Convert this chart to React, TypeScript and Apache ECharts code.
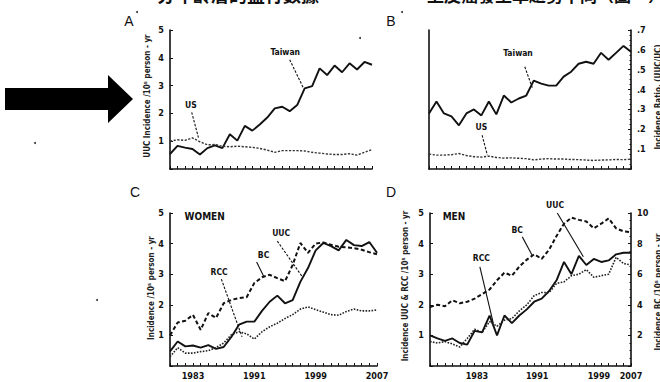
import React, { useEffect, useRef } from "react";
import * as echarts from "echarts";

// ---------- data ----------
const YEARS = [1980, 1981, 1982, 1983, 1984, 1985, 1986, 1987, 1988, 1989, 1990, 1991, 1992, 1993, 1994, 1995, 1996, 1997, 1998, 1999, 2000, 2001, 2002, 2003, 2004, 2005, 2006, 2007];

// Panel A: UUC incidence /10^5 person-yr
const A_TAIWAN = [0.54, 0.83, 0.77, 0.72, 0.52, 0.75, 0.85, 0.75, 1.25, 1.02, 1.55, 1.38, 1.6, 1.85, 2.18, 2.24, 2.08, 2.3, 2.9, 2.98, 3.62, 3.38, 3.72, 3.48, 3.8, 3.58, 3.85, 3.75];
const A_US = [1.0, 1.05, 1.03, 1.12, 0.98, 0.87, 0.88, 0.82, 0.8, 0.82, 0.8, 0.78, 0.74, 0.68, 0.6, 0.66, 0.66, 0.66, 0.65, 0.6, 0.57, 0.54, 0.52, 0.52, 0.55, 0.5, 0.6, 0.7];

// Panel B: incidence ratio
const B_TAIWAN = [0.28, 0.34, 0.28, 0.265, 0.22, 0.28, 0.3, 0.27, 0.34, 0.275, 0.37, 0.335, 0.355, 0.37, 0.445, 0.43, 0.42, 0.42, 0.465, 0.49, 0.53, 0.54, 0.53, 0.585, 0.55, 0.585, 0.62, 0.59];
const B_US = [0.075, 0.07, 0.07, 0.072, 0.078, 0.068, 0.062, 0.06, 0.065, 0.058, 0.055, 0.056, 0.054, 0.052, 0.046, 0.05, 0.052, 0.05, 0.05, 0.048, 0.047, 0.045, 0.043, 0.045, 0.046, 0.048, 0.047, 0.05];

// Panel C: women
const C_UUC = [0.48, 0.8, 0.64, 0.67, 0.6, 0.68, 0.56, 0.62, 0.95, 1.35, 1.45, 1.45, 1.8, 2.1, 2.3, 2.05, 2.15, 2.75, 3.2, 3.78, 4.02, 3.92, 3.78, 4.12, 3.95, 3.92, 4.05, 3.7];
const C_BC = [1.0, 1.42, 1.48, 1.67, 1.18, 1.73, 1.57, 2.05, 2.16, 2.22, 2.25, 2.71, 2.9, 2.98, 2.87, 2.77, 3.3, 4.02, 3.7, 4.0, 4.04, 3.96, 3.9, 3.88, 3.85, 3.8, 3.72, 3.65];
const C_RCC = [0.3, 0.6, 0.42, 0.42, 0.47, 0.5, 0.6, 0.75, 1.02, 1.12, 1.05, 0.88, 1.12, 1.28, 1.4, 1.55, 1.68, 1.86, 1.93, 1.84, 1.76, 1.68, 1.66, 1.78, 1.86, 1.8, 1.8, 1.83];

// Panel D: men (BC on right axis)
const D_UUC = [1.0, 0.9, 0.82, 0.9, 0.75, 0.7, 1.15, 1.1, 1.65, 1.0, 1.65, 1.4, 1.65, 1.85, 2.1, 2.2, 2.45, 2.8, 3.4, 3.0, 3.6, 3.3, 3.5, 3.4, 3.45, 3.65, 3.7, 3.7];
const D_RCC = [0.8, 0.75, 0.8, 0.72, 0.62, 0.9, 1.2, 1.1, 1.45, 1.3, 1.5, 1.55, 1.8, 2.0, 2.3, 2.4, 2.4, 2.7, 2.75, 2.95, 3.0, 3.15, 2.9, 2.95, 3.0, 3.55, 3.35, 3.3];
const D_BC = [3.85, 4.0, 3.9, 4.3, 4.1, 4.2, 4.4, 4.7, 5.0, 5.6, 6.1, 5.9, 6.5, 6.95, 7.3, 7.0, 7.6, 8.5, 9.3, 9.7, 9.55, 9.45, 9.0, 9.3, 9.65, 9.0, 8.8, 8.75];

// tick labels
const C_X_LABELS = ["1983", "1991", "1999", "2007"];
const C_X_LABEL_AT = [1983, 1991, 1999, 2007];
const D_X_LABELS = ["1983", "1991", "1999", "2007"];
const D_X_LABEL_AT = [1986.3, 1994.4, 2002.7, 2007];

// annotations in data coordinates: [xAxisIndex, yAxisIndex, text, x, y, align]
const LABELS: [number, number, string, number, number, string][] = [
  [0, 0, "Taiwan", 1995.4, 4.21, "center"],
  [0, 0, "US", 1982.8, 2.32, "center"],
  [1, 1, "Taiwan", 1991.9, 0.585, "center"],
  [1, 1, "US", 1987.0, 0.21, "center"],
  [2, 3, "WOMEN", 1981.9, 4.87, "left"],
  [2, 3, "RCC", 1986.4, 3.07, "center"],
  [2, 3, "BC", 1992.2, 3.63, "center"],
  [2, 3, "UUC", 1994.5, 4.35, "center"],
  [3, 4, "MEN", 1981.7, 4.87, "left"],
  [3, 4, "BC", 1991.7, 4.44, "center"],
  [3, 4, "RCC", 1986.9, 3.53, "center"],
  [3, 4, "UUC", 1996.8, 5.26, "center"],
];
// leader lines: [xAxisIndex, yAxisIndex, x1, y1, x2, y2, dashed]
const LEADERS: [number, number, number, number, number, number, boolean][] = [
  [0, 0, 1996.0, 3.93, 1997.8, 2.93, true],
  [0, 0, 1982.9, 2.04, 1983.8, 1.13, true],
  [1, 1, 1992.8, 0.515, 1993.8, 0.41, true],
  [1, 1, 1987.1, 0.17, 1987.8, 0.07, true],
  [2, 3, 1986.7, 2.84, 1989.4, 0.95, true],
  [2, 3, 1991.3, 3.4, 1992.2, 2.94, false],
  [2, 3, 1994.0, 4.08, 1997.3, 2.9, true],
  [3, 4, 1992.4, 4.22, 1993.7, 3.63, false],
  [3, 4, 1986.7, 3.24, 1988.5, 1.4, false],
  [3, 4, 1997.1, 5.0, 2000.6, 3.57, false],
];

const FONT = "'Liberation Sans Narrow', 'DejaVu Sans Condensed', 'Liberation Sans', sans-serif";
const INK = "#111";

const pairs = (vals: number[]) => YEARS.map((y, i) => [y, vals[i]]);

const axisLine = { show: true, lineStyle: { color: INK, width: 1.6 } };
const tickStyle = { color: INK, width: 1 };
const labelStyle = { fontSize: 9, fontWeight: "bold" as const, color: INK, fontFamily: FONT };

function xAxis(gridIndex: number, at?: number[], texts?: string[]) {
  return {
    type: "value",
    gridIndex,
    min: 1980,
    max: 2007,
    axisLine,
    splitLine: { show: false },
    axisTick: { show: true, inside: true, length: 3, customValues: YEARS, lineStyle: tickStyle },
    axisLabel: at
      ? {
          show: true,
          customValues: at,
          margin: 5,
          ...labelStyle,
          formatter: (v: number) => {
            const i = at.findIndex((p) => Math.abs(p - v) < 1e-6);
            return i >= 0 && texts ? texts[i] : "";
          },
        }
      : { show: false },
  };
}

function yAxis(gridIndex: number, max: number, interval: number, position: string, fmt: (v: number) => string, minor = false, showLabel = true) {
  return {
    type: "value",
    gridIndex,
    position,
    min: 0,
    max,
    interval,
    axisLine,
    splitLine: { show: false },
    axisTick: { show: showLabel, inside: true, length: 3, lineStyle: tickStyle },
    minorTick: { show: minor, splitNumber: 4, length: 1.5, lineStyle: tickStyle },
    axisLabel: { show: showLabel, margin: 6, ...labelStyle, formatter: fmt },
  };
}

const intFmt = (v: number) => (v === 0 ? "" : String(v));
const ratioFmt = (v: number) => (v < 0.05 ? "" : "." + Math.round(v * 10));

function line(name: string, xi: number, yi: number, vals: number[], kind: "solid" | "dash" | "dot" | "dotUS") {
  const style: any = { color: INK, width: 1.9, type: "solid" };
  if (kind === "dash") { style.type = [4, 2.5]; style.width = 2; }
  if (kind === "dot") { style.type = [1.6, 1.4]; style.width = 1.6; style.color = "#222"; }
  if (kind === "dotUS") { style.type = [2.2, 1.5]; style.width = 1.4; style.color = "#333"; }
  return {
    name,
    type: "line",
    xAxisIndex: xi,
    yAxisIndex: yi,
    data: pairs(vals),
    showSymbol: false,
    symbol: "none",
    lineStyle: style,
    silent: true,
  };
}

function staticGraphics(): any[] {
  const g: any[] = [];
  // header text, mostly cut off at the top edge
  g.push({ type: "text", x: 157, y: 3, style: { text: "分年齡層的盛行數據", fontSize: 18, fontWeight: "bold", fill: INK, fontFamily: "'Noto Sans CJK TC'", align: "left", verticalAlign: "bottom" } });
  g.push({ type: "text", x: 427, y: 3, style: { text: "上皮癌發生率趨勢不同（圖一）", fontSize: 17, fontWeight: "bold", fill: INK, fontFamily: "'Noto Sans CJK TC'", align: "left", verticalAlign: "bottom" } });
  // big arrow
  g.push({ type: "polygon", shape: { points: [[5, 88], [108, 88], [108, 75], [133, 99], [108, 123], [108, 110], [5, 110]] }, style: { fill: "#000" } });
  // panel letters
  const letters: [string, number, number][] = [["A", 129, 21], ["B", 391, 21], ["C", 135, 192], ["D", 391, 192]];
  letters.forEach(([t, x, y]) => g.push({ type: "text", x, y, style: { text: t, fontSize: 14, fill: INK, fontFamily: "'Liberation Sans', Arial, sans-serif", align: "center", verticalAlign: "middle" } }));
  // axis titles (rotated)
  const titles: [string, number, number][] = [
    ["UUC Incidence /10⁵ person - yr", 147, 96],
    ["Incidence /10⁵ person - yr", 151, 288],
    ["Incidence UUC & RCC /10⁵ person - yr", 405, 286],
    ["Incidence Ratio, (UUC/UC)", 658, 97],
    ["Incidence BC /10⁵ person - yr", 658, 292],
  ];
  titles.forEach(([t, x, y]) => g.push({ type: "text", x, y, rotation: Math.PI / 2, style: { text: t, fontSize: 8, fontWeight: "bold", fill: "#222", fontFamily: FONT, align: "center", verticalAlign: "middle" } }));
  // scan specks
  const specks: [number, number][] = [[35, 143], [360, 38], [402, 12], [137, 12], [97, 300]];
  specks.forEach(([x, y]) => g.push({ type: "circle", shape: { cx: x, cy: y, r: 1 }, style: { fill: "#333" } }));
  return g;
}

export default function App() {
  const ref = useRef<HTMLDivElement>(null);
  useEffect(() => {
    if (!ref.current) return;
    const chart = echarts.init(ref.current, undefined, { renderer: "svg" });
    const option: any = {
      animation: false,
      backgroundColor: "#fff",
      grid: [
        { left: 170, top: 30, width: 202, height: 139 },
        { left: 429, top: 30, width: 202, height: 139 },
        { left: 170, top: 213, width: 207, height: 153 },
        { left: 430, top: 213, width: 201, height: 153 },
      ],
      xAxis: [
        xAxis(0),
        xAxis(1),
        xAxis(2, C_X_LABEL_AT, C_X_LABELS),
        xAxis(3, D_X_LABEL_AT, D_X_LABELS),
      ],
      yAxis: [
        yAxis(0, 5, 1, "left", intFmt),
        yAxis(1, 0.7, 0.1, "right", ratioFmt, true),
        yAxis(1, 0.7, 0.1, "left", intFmt, false, false),
        yAxis(2, 5, 1, "left", intFmt),
        yAxis(3, 5, 1, "left", intFmt),
        yAxis(3, 10, 2, "right", intFmt, true),
      ],
      series: [
        line("Taiwan", 0, 0, A_TAIWAN, "solid"),
        line("US", 0, 0, A_US, "dotUS"),
        line("Taiwan ratio", 1, 1, B_TAIWAN, "solid"),
        line("US ratio", 1, 1, B_US, "dotUS"),
        line("UUC women", 2, 3, C_UUC, "solid"),
        line("BC women", 2, 3, C_BC, "dash"),
        line("RCC women", 2, 3, C_RCC, "dot"),
        line("UUC men", 3, 4, D_UUC, "solid"),
        line("RCC men", 3, 4, D_RCC, "dot"),
        line("BC men", 3, 5, D_BC, "dash"),
      ],
    };
    chart.setOption(option);

    const g = staticGraphics();
    LABELS.forEach(([xi, yi, text, x, y, align]) => {
      const p = chart.convertToPixel({ xAxisIndex: xi, yAxisIndex: yi } as any, [x, y]) as number[];
      const big = text === "WOMEN" || text === "MEN";
      g.push({ type: "text", x: p[0], y: p[1], style: { text, fontSize: big ? 10 : 8.5, fontWeight: "bold", fill: INK, fontFamily: FONT, align, verticalAlign: "middle" } });
    });
    LEADERS.forEach(([xi, yi, x1, y1, x2, y2, dashed]) => {
      const a = chart.convertToPixel({ xAxisIndex: xi, yAxisIndex: yi } as any, [x1, y1]) as number[];
      const b = chart.convertToPixel({ xAxisIndex: xi, yAxisIndex: yi } as any, [x2, y2]) as number[];
      g.push({ type: "line", shape: { x1: a[0], y1: a[1], x2: b[0], y2: b[1] }, style: { stroke: INK, lineWidth: 1.1, lineDash: dashed ? [2.5, 1.5] : null } });
    });
    chart.setOption({ graphic: g });

    return () => chart.dispose();
  }, []);
  return <div ref={ref} style={{ position: "fixed", left: 0, top: 0, width: 660, height: 382, background: "#fff" }} />;
}
